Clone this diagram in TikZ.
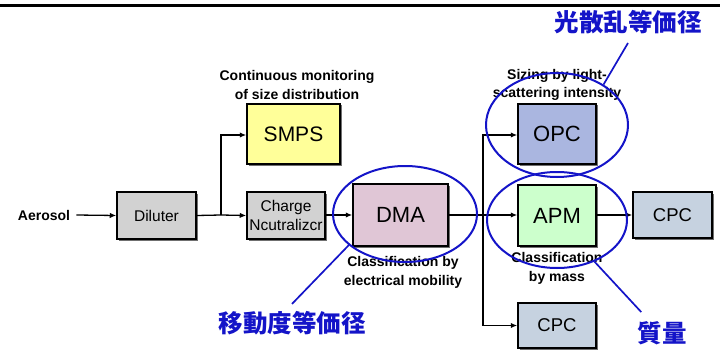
\documentclass[tikz,border=0pt]{standalone}
\usepackage{fontspec}
\setmainfont{Liberation Sans}
\newfontfamily\cjk{Noto Sans CJK JP}
\usetikzlibrary{arrows.meta,shapes.geometric,shadows}
\definecolor{graybox}{RGB}{210,210,210}
\definecolor{smpsc}{RGB}{255,255,153}
\definecolor{dmac}{RGB}{224,198,214}
\definecolor{opcc}{RGB}{170,182,224}
\definecolor{apmc}{RGB}{204,255,204}
\definecolor{cpcc}{RGB}{198,210,224}
\definecolor{penblue}{RGB}{20,20,200}
\tikzset{
  box/.style={draw=black, line width=1.5pt, inner sep=0pt, align=center,
    drop shadow={shadow xshift=1.5pt, shadow yshift=-1.5pt, fill=black!70, opacity=0.8}},
  note/.style={font=\bfseries\fontsize{14}{18.5}\selectfont, align=center, inner sep=0pt},
  flow/.style={line width=1.3pt, -{Latex[length=6.5pt,width=5.5pt]}},
  wire/.style={line width=1.3pt},
  ring/.style={draw=penblue, line width=2pt, ellipse, inner sep=0pt},
  pen/.style={draw=penblue, line width=1.7pt},
  tag/.style={font=\cjk\bfseries\fontsize{24.5}{26}\selectfont, text=penblue, inner sep=1pt}
}
\begin{document}
\begin{tikzpicture}[x=1pt,y=-1pt]
\useasboundingbox (0,0) rectangle (720,350);
\draw[line width=3pt] (0,5.3) -- (720,5.3);

% boxes
\node[box, fill=graybox, minimum width=79pt, minimum height=47pt, font=\fontsize{15.5}{19}\selectfont] (dil) at (156.5,215.5) {Diluter};
\node[box, fill=graybox, minimum width=78pt, minimum height=47pt, font=\fontsize{15.5}{19.5}\selectfont] (chg) at (286,215.5) {Charge\\Ncutralizcr};
\node[box, fill=smpsc, minimum width=93pt, minimum height=60pt, font=\fontsize{21}{24}\selectfont] (smps) at (293.5,134) {SMPS};
\node[box, fill=dmac, minimum width=95pt, minimum height=62pt, font=\fontsize{22}{24}\selectfont] (dma) at (400.5,215) {DMA};
\node[box, fill=opcc, minimum width=78pt, minimum height=60pt, font=\fontsize{22}{24}\selectfont] (opc) at (557,134) {OPC};
\node[box, fill=apmc, minimum width=78pt, minimum height=61pt, font=\fontsize{22}{24}\selectfont] (apm) at (557,215.5) {APM};
\node[box, fill=cpcc, minimum width=79pt, minimum height=46pt, font=\fontsize{18.5}{20}\selectfont] (cpca) at (672.5,215) {CPC};
\node[box, fill=cpcc, minimum width=78pt, minimum height=45pt, font=\fontsize{18.5}{20}\selectfont] (cpcb) at (557,325.5) {CPC};

% notes
\node[note] (aer) at (44,215) {Aerosol};
\node[note] (nsmps) at (297,85) {Continuous monitoring\\of size distribution};
\node[note] (ndma) at (403,272.5) {Classification by\\electrical mobility};
\node[note] (nopc) at (557,85) {Sizing by light-\\scattering intensity};
\node[note] (napm) at (557,268.5) {Classification\\by mass};

% connectors
\coordinate (s1) at (221,215);
\coordinate (s2) at (483,215);
\draw[flow] (aer.east) ++(6,0) -- (dil.west);
\draw[wire] (dil.east) -- (s1);
\draw[flow] (s1) -- (chg.west);
\draw[flow] (s1) |- (smps.west |- 0,135);
\draw[flow] (chg.east |- s1) -- (dma.west |- s1);
\draw[wire] (dma.east |- s2) -- (s2);
\draw[flow] (s2) -- (apm.west |- s2);
\draw[flow] (s2) |- (opc.west |- 0,135);
\draw[flow] (s2) |- (cpcb.west);
\draw[flow] (apm.east |- s2) -- (cpca.west |- s2);

% blue annotations
\node[ring, minimum width=144pt, minimum height=96pt] (edma) at (405,214) {};
\node[ring, minimum width=142pt, minimum height=104pt] (eopc) at (557,125) {};
\node[ring, minimum width=140pt, minimum height=96pt] (eapm) at (557,220) {};
\node[tag] (topc) at (628,22) {光散乱等価径};
\node[tag] (tdma) at (292,323) {移動度等価径};
\node[tag] (tapm) at (662,333) {質量};
\draw[pen] ([yshift=-8pt]topc.south) -- (eopc.41);
\draw[pen] ([yshift=6pt]tdma.north) -- (edma.209);
\draw[pen] ([xshift=5pt,yshift=8pt]tapm.north west) -- (eapm.-48);
\end{tikzpicture}
\end{document}
